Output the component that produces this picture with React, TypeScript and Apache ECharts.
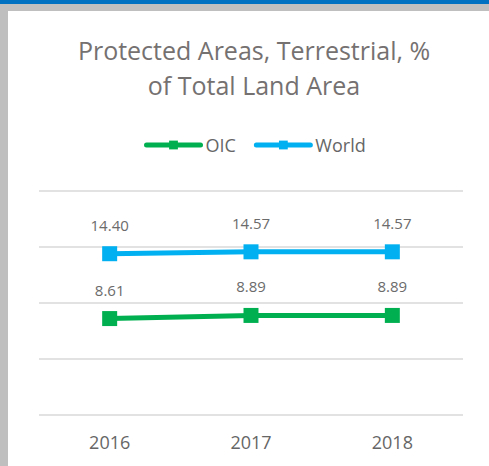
import React, { useEffect, useRef } from "react";
import * as echarts from "echarts";

const categories = ["2016", "2017", "2018"];
const oicValues = [8.61, 8.89, 8.89];
const worldValues = [14.4, 14.57, 14.57];
const titleLines = ["Protected Areas, Terrestrial, %", "of Total Land Area"];

export default function App() {
  const ref = useRef<HTMLDivElement>(null);
  useEffect(() => {
    if (!ref.current) return;
    const chart = echarts.init(ref.current, null, { renderer: "svg" });
    const font = "Open Sans";
    const label = {
      show: true,
      position: "top",
      distance: 14,
      color: "#6b6b6b",
      fontSize: 15,
      fontFamily: font,
      formatter: (p: any) => Number(p.value).toFixed(2),
    };
    chart.setOption({
      animation: false,
      backgroundColor: "#ffffff",
      graphic: [
        { type: "rect", shape: { x: 0, y: 0, width: 489, height: 4 }, style: { fill: "#0070c0" } },
        { type: "rect", shape: { x: 0, y: 4, width: 489, height: 7 }, style: { fill: "#bfbfbf" } },
        { type: "rect", shape: { x: 0, y: 4, width: 8, height: 462 }, style: { fill: "#bfbfbf" } },
      ],
      title: {
        text: titleLines.join("\n"),
        left: 249,
        textAlign: "center",
        top: 27,
        textStyle: {
          fontFamily: font,
          fontSize: 25,
          fontWeight: "normal",
          color: "#757171",
          lineHeight: 35,
        },
      },
      legend: {
        top: 131,
        left: 139,
        itemWidth: 54,
        itemHeight: 11,
        itemGap: 18,
        lineStyle: { width: 5, cap: "round" },
        textStyle: { fontFamily: font, fontSize: 18, color: "#666666" },
        data: ["OIC", "World"],
      },
      grid: { left: 39, right: 26, top: 191, bottom: 51 },
      xAxis: {
        type: "category",
        data: categories,
        axisLine: { show: false },
        axisTick: { show: false },
        axisLabel: { color: "#666666", fontSize: 18, fontFamily: font, margin: 18 },
      },
      yAxis: {
        type: "value",
        min: 0,
        max: 20,
        interval: 5,
        axisLabel: { show: false },
        axisLine: { show: false },
        axisTick: { show: false },
        splitLine: { lineStyle: { color: "#d9d9d9", width: 1.5 } },
      },
      series: [
        {
          name: "OIC",
          type: "line",
          data: oicValues,
          symbol: "rect",
          symbolSize: 15,
          lineStyle: { color: "#00b050", width: 5 },
          itemStyle: { color: "#00b050" },
          label,
        },
        {
          name: "World",
          type: "line",
          data: worldValues,
          symbol: "rect",
          symbolSize: 15,
          lineStyle: { color: "#00b0f0", width: 5 },
          itemStyle: { color: "#00b0f0" },
          label,
        },
      ],
    });
    return () => chart.dispose();
  }, []);
  return <div ref={ref} style={{ position: "absolute", left: 0, top: 0, width: 489, height: 466 }} />;
}
